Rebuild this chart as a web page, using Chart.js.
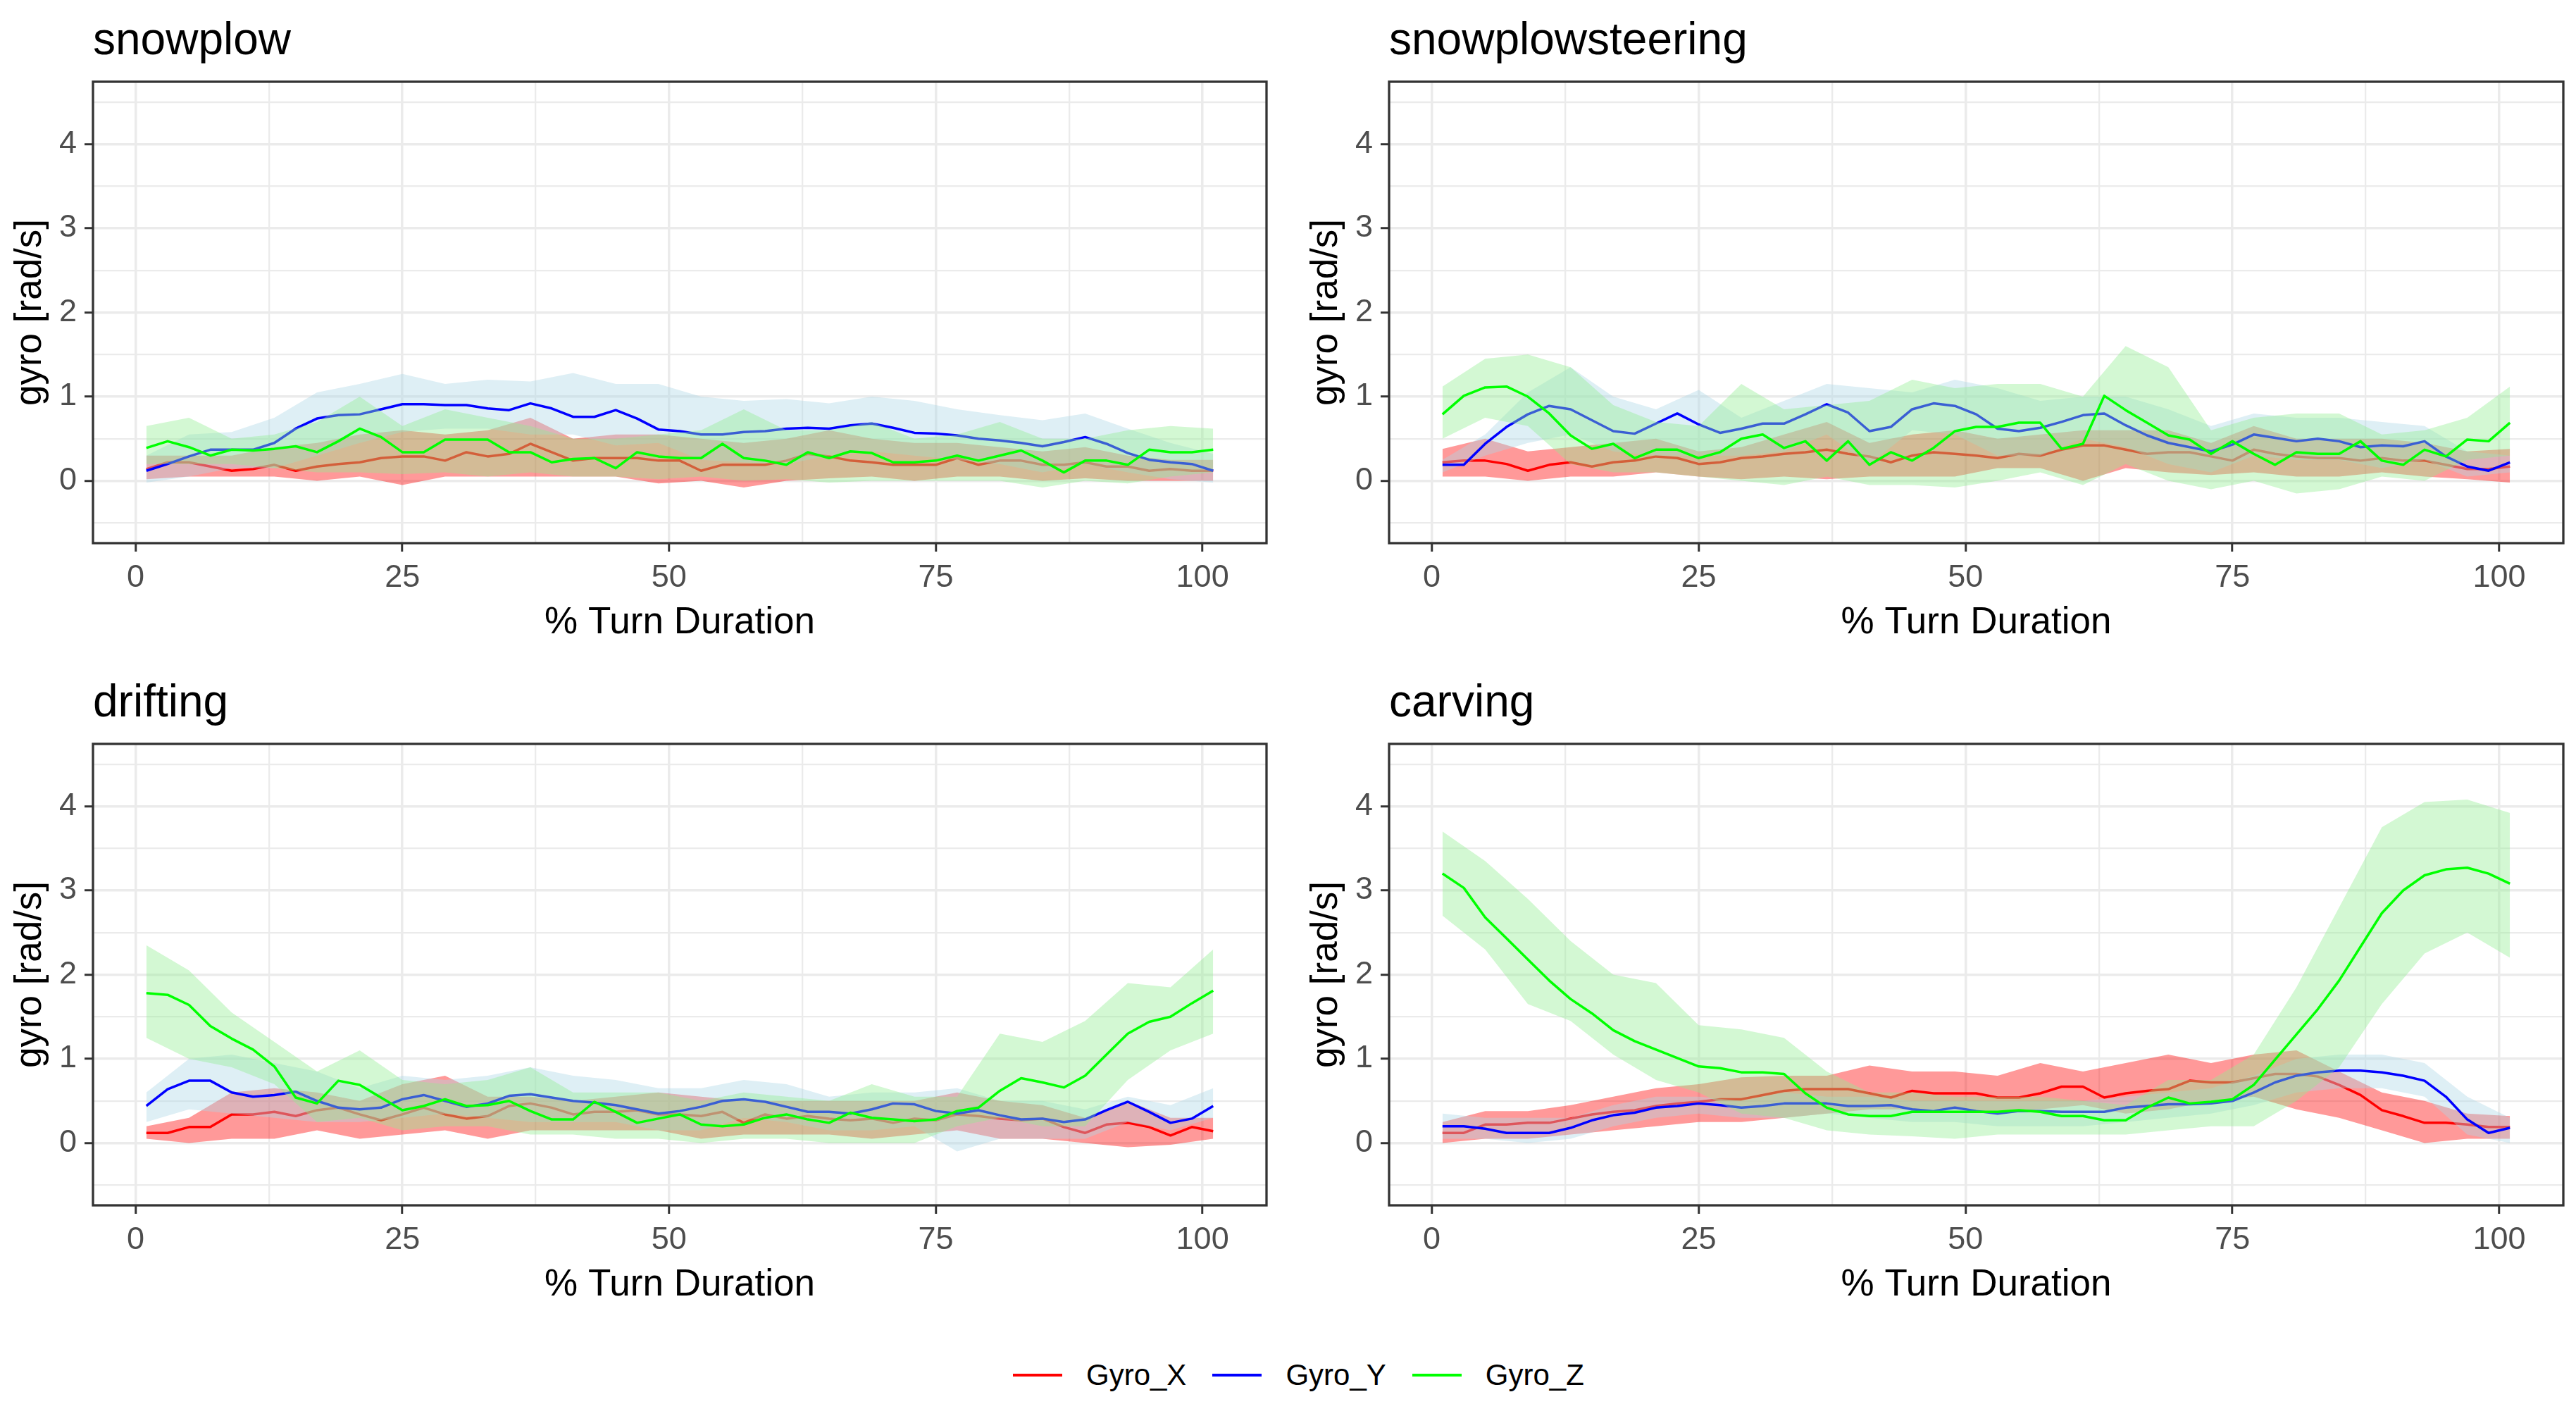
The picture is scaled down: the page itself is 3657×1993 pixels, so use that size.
<!DOCTYPE html>
<html>
<head>
<meta charset="utf-8">
<script src="https://cdn.jsdelivr.net/npm/chart.js@4.4.1/dist/chart.umd.min.js"></script>
<style>
  html, body { margin: 0; padding: 0; background: #fff; }
  #page { position: relative; width: 3657px; height: 1993px; overflow: hidden; background: #fff; }
  canvas { position: absolute; }
  #legend { position: absolute; left: 1438px; top: 1925px; height: 54px; display: flex; align-items: center;
            font-family: "Liberation Sans", Arial, sans-serif; font-size: 42px; color: #000; }
  #legend .sw { width: 70px; height: 4px; margin-right: 34px; }
  #legend .tx { margin-right: 37px; }
</style>
</head>
<body>
<div id="page">
  <canvas id="c0"></canvas>
  <canvas id="c1"></canvas>
  <canvas id="c2"></canvas>
  <canvas id="c3"></canvas>
  <div id="legend"></div>
</div>
<script>
// x positions (% turn duration)
var xMean = [1,3,5,7,9,11,13,15,17,19,21,23,25,27,29,31,33,35,37,39,41,43,45,47,49,51,53,55,57,59,61,63,65,67,69,71,73,75,77,79,81,83,85,87,89,91,93,95,97,99,101];
var xBand = [1,5,9,13,17,21,25,29,33,37,41,45,49,53,57,61,65,69,73,77,81,85,89,93,97,101];

var xTickLabels = [0, 25, 50, 75, 100];
var xGridVals = [0, 12.5, 25, 37.5, 50, 62.5, 75, 87.5, 100];
var yTickLabels = [0, 1, 2, 3, 4];
var yGridVals = [-0.5, 0, 0.5, 1, 1.5, 2, 2.5, 3, 3.5, 4, 4.5];

var seriesNames = ['Gyro_X', 'Gyro_Y', 'Gyro_Z'];
var panelNames = ['snowplow', 'snowplowsteering', 'drifting', 'carving'];

// snowplow
var spX = [0.14,0.22,0.22,0.17,0.12,0.14,0.19,0.12,0.17,0.20,0.22,0.27,0.29,0.29,0.24,0.34,0.29,0.32,0.44,0.34,0.24,0.27,0.27,0.27,0.24,0.24,0.12,0.19,0.19,0.19,0.24,0.32,0.29,0.24,0.22,0.19,0.19,0.19,0.27,0.19,0.24,0.24,0.19,0.19,0.22,0.17,0.17,0.12,0.14,0.12,0.12];
var spY = [0.12,0.20,0.29,0.37,0.37,0.37,0.45,0.62,0.74,0.78,0.79,0.85,0.91,0.91,0.90,0.90,0.86,0.84,0.92,0.86,0.76,0.76,0.84,0.74,0.61,0.59,0.55,0.55,0.58,0.59,0.62,0.63,0.62,0.66,0.68,0.63,0.57,0.56,0.54,0.50,0.48,0.45,0.41,0.46,0.52,0.44,0.33,0.25,0.22,0.20,0.12];
var spZ = [0.39,0.47,0.40,0.30,0.37,0.36,0.38,0.41,0.34,0.47,0.62,0.52,0.34,0.34,0.49,0.49,0.49,0.34,0.34,0.22,0.26,0.27,0.15,0.34,0.29,0.27,0.27,0.44,0.27,0.24,0.19,0.34,0.27,0.35,0.33,0.22,0.22,0.24,0.30,0.24,0.30,0.36,0.24,0.10,0.24,0.24,0.19,0.37,0.34,0.34,0.37];
var spXLo = [0.02,0.05,0.05,0.05,0.00,0.05,-0.05,0.05,0.05,0.05,0.05,0.05,-0.03,0.00,-0.08,0.00,0.03,0.05,0.00,0.05,0.05,0.00,0.03,0.00,0.00,0.00];
var spXHi = [0.30,0.30,0.30,0.40,0.45,0.55,0.60,0.55,0.60,0.75,0.50,0.55,0.55,0.50,0.45,0.50,0.60,0.50,0.45,0.45,0.40,0.35,0.40,0.30,0.25,0.25];
var spYLo = [-0.02,0.05,0.15,0.15,0.30,0.45,0.58,0.62,0.62,0.55,0.55,0.42,0.45,0.25,0.22,0.20,0.30,0.35,0.30,0.25,0.20,0.10,0.20,0.10,0.02,-0.02];
var spYHi = [0.30,0.55,0.58,0.75,1.05,1.15,1.27,1.15,1.20,1.18,1.28,1.15,1.15,1.00,0.95,0.97,0.92,1.00,0.95,0.85,0.78,0.72,0.80,0.62,0.45,0.32];
var spZLo = [0.20,0.20,0.20,0.15,0.10,0.10,0.08,0.10,0.05,0.10,0.05,0.05,0.02,0.05,0.00,0.02,-0.02,0.00,0.00,0.00,0.00,-0.08,0.00,-0.03,0.05,0.10];
var spZHi = [0.65,0.75,0.50,0.55,0.70,1.00,0.65,0.85,0.75,0.65,0.50,0.50,0.55,0.60,0.85,0.60,0.60,0.70,0.50,0.55,0.70,0.50,0.50,0.60,0.65,0.62];

// snowplowsteering
var ssX = [0.22,0.24,0.24,0.20,0.12,0.19,0.22,0.17,0.22,0.24,0.29,0.27,0.20,0.22,0.27,0.29,0.32,0.34,0.37,0.32,0.29,0.22,0.30,0.34,0.32,0.30,0.27,0.32,0.30,0.37,0.42,0.42,0.37,0.32,0.34,0.34,0.29,0.24,0.37,0.32,0.29,0.27,0.27,0.24,0.27,0.24,0.24,0.19,0.14,0.14,0.17];
var ssY = [0.19,0.19,0.44,0.64,0.79,0.89,0.85,0.72,0.59,0.56,0.68,0.80,0.67,0.57,0.62,0.68,0.68,0.79,0.91,0.81,0.59,0.64,0.85,0.92,0.89,0.79,0.62,0.59,0.63,0.70,0.78,0.80,0.66,0.54,0.45,0.40,0.35,0.43,0.55,0.51,0.47,0.50,0.47,0.40,0.42,0.41,0.47,0.29,0.17,0.12,0.22];
var ssZ = [0.79,1.01,1.11,1.12,1.00,0.80,0.54,0.38,0.44,0.27,0.37,0.37,0.27,0.34,0.50,0.55,0.39,0.47,0.24,0.47,0.19,0.34,0.24,0.39,0.59,0.64,0.64,0.69,0.69,0.38,0.44,1.01,0.84,0.69,0.54,0.49,0.32,0.47,0.32,0.19,0.34,0.32,0.32,0.47,0.24,0.19,0.37,0.29,0.49,0.47,0.69];
var ssXLo = [0.05,0.05,0.00,0.05,0.05,0.10,0.05,0.02,0.05,0.02,0.05,0.05,0.05,0.15,0.15,0.00,0.15,0.10,0.07,0.10,0.05,0.05,0.10,0.05,0.02,-0.02];
var ssXHi = [0.38,0.50,0.35,0.40,0.45,0.50,0.35,0.40,0.55,0.70,0.45,0.55,0.60,0.50,0.55,0.60,0.60,0.60,0.45,0.65,0.50,0.50,0.50,0.45,0.35,0.38];
var ssYLo = [0.10,0.30,0.45,0.55,0.35,0.30,0.30,0.30,0.35,0.55,0.20,0.60,0.55,0.30,0.30,0.50,0.40,0.20,0.10,0.30,0.25,0.25,0.15,0.25,0.05,0.10];
var ssYHi = [0.25,0.55,1.05,1.35,1.00,0.85,1.08,0.75,0.95,1.15,1.10,1.05,1.20,1.10,0.95,1.00,1.00,0.85,0.65,0.80,0.75,0.75,0.70,0.65,0.35,0.30];
var ssZLo = [0.50,0.75,0.65,0.20,0.10,0.10,0.05,0.00,-0.05,0.05,-0.05,-0.05,-0.08,0.00,0.10,-0.05,0.20,0.00,-0.10,0.00,-0.15,-0.10,0.05,0.00,0.25,0.30];
var ssZHi = [1.12,1.45,1.50,1.35,0.90,0.70,0.65,1.15,0.85,0.90,0.95,1.20,1.10,1.15,1.15,1.00,1.60,1.35,0.60,0.75,0.80,0.80,0.55,0.60,0.75,1.12];

// drifting
var drX = [0.12,0.12,0.19,0.19,0.34,0.34,0.37,0.32,0.39,0.42,0.34,0.27,0.34,0.42,0.34,0.29,0.32,0.44,0.47,0.42,0.34,0.37,0.37,0.39,0.34,0.34,0.32,0.37,0.24,0.34,0.29,0.32,0.29,0.27,0.29,0.24,0.29,0.27,0.34,0.32,0.29,0.27,0.29,0.19,0.12,0.22,0.24,0.19,0.09,0.19,0.14];
var drY = [0.44,0.64,0.74,0.74,0.60,0.55,0.57,0.61,0.50,0.42,0.40,0.42,0.52,0.57,0.50,0.43,0.47,0.56,0.58,0.54,0.50,0.48,0.45,0.40,0.35,0.38,0.43,0.50,0.52,0.49,0.43,0.37,0.37,0.35,0.40,0.47,0.46,0.38,0.35,0.39,0.33,0.28,0.29,0.25,0.28,0.39,0.49,0.37,0.24,0.29,0.44];
var drZ = [1.78,1.76,1.64,1.39,1.24,1.11,0.91,0.54,0.47,0.74,0.69,0.54,0.39,0.44,0.52,0.44,0.45,0.50,0.38,0.28,0.28,0.49,0.37,0.24,0.29,0.34,0.22,0.20,0.22,0.30,0.34,0.28,0.24,0.36,0.30,0.28,0.26,0.28,0.38,0.42,0.62,0.77,0.72,0.66,0.80,1.05,1.30,1.44,1.50,1.66,1.81];
var drXLo = [0.05,0.00,0.05,0.05,0.15,0.05,0.10,0.15,0.05,0.15,0.15,0.15,0.15,0.05,0.10,0.10,0.10,0.05,0.10,0.15,0.05,0.05,0.00,-0.05,-0.02,0.05];
var drXHi = [0.20,0.30,0.60,0.65,0.60,0.50,0.70,0.80,0.55,0.55,0.50,0.55,0.60,0.55,0.50,0.50,0.50,0.50,0.50,0.60,0.50,0.45,0.30,0.50,0.30,0.30];
var drYLo = [0.25,0.40,0.35,0.30,0.25,0.25,0.30,0.35,0.30,0.25,0.25,0.25,0.15,0.15,0.30,0.25,0.15,0.15,0.20,-0.10,0.05,0.05,0.05,0.25,0.15,0.30];
var drYHi = [0.60,1.00,1.05,0.95,0.85,0.65,0.80,0.75,0.80,0.90,0.80,0.75,0.65,0.65,0.75,0.70,0.55,0.60,0.60,0.65,0.50,0.50,0.40,0.55,0.45,0.65];
var drZLo = [1.25,1.00,0.90,0.70,0.25,0.30,0.15,0.20,0.20,0.10,0.10,0.05,0.05,0.00,0.05,0.05,0.00,0.00,0.00,0.20,0.30,0.20,0.20,0.75,1.10,1.30];
var drZHi = [2.35,2.05,1.55,1.20,0.85,1.10,0.75,0.70,0.75,0.90,0.60,0.60,0.60,0.50,0.60,0.55,0.50,0.70,0.55,0.55,1.30,1.20,1.45,1.90,1.85,2.30];

// carving
var cvX = [0.12,0.12,0.22,0.22,0.24,0.24,0.29,0.34,0.37,0.39,0.44,0.47,0.49,0.52,0.52,0.57,0.62,0.64,0.64,0.64,0.59,0.54,0.62,0.59,0.59,0.59,0.54,0.54,0.59,0.67,0.67,0.54,0.59,0.62,0.64,0.74,0.72,0.72,0.77,0.82,0.82,0.79,0.69,0.57,0.39,0.32,0.24,0.24,0.22,0.19,0.19];
var cvY = [0.20,0.20,0.17,0.12,0.12,0.12,0.18,0.27,0.33,0.36,0.42,0.44,0.47,0.45,0.42,0.44,0.47,0.47,0.47,0.44,0.44,0.45,0.40,0.38,0.42,0.38,0.35,0.38,0.38,0.37,0.37,0.37,0.42,0.44,0.46,0.46,0.47,0.50,0.60,0.72,0.80,0.84,0.86,0.86,0.84,0.80,0.74,0.55,0.28,0.12,0.18];
var cvZ = [3.20,3.03,2.68,2.43,2.18,1.93,1.71,1.54,1.34,1.21,1.11,1.01,0.91,0.89,0.84,0.84,0.82,0.59,0.42,0.34,0.32,0.32,0.37,0.37,0.37,0.37,0.37,0.39,0.37,0.32,0.32,0.27,0.27,0.42,0.54,0.47,0.49,0.52,0.69,0.99,1.29,1.59,1.93,2.33,2.73,3.00,3.18,3.25,3.27,3.20,3.08];
var cvXLo = [0.00,0.05,0.05,0.10,0.15,0.20,0.25,0.25,0.30,0.35,0.40,0.40,0.40,0.35,0.40,0.45,0.35,0.40,0.50,0.55,0.40,0.30,0.15,0.00,0.05,0.05];
var cvXHi = [0.25,0.38,0.38,0.45,0.55,0.65,0.70,0.78,0.80,0.80,0.92,0.85,0.85,0.80,0.95,0.85,0.95,1.05,0.95,1.05,1.10,0.85,0.60,0.50,0.35,0.32];
var cvYLo = [0.05,0.05,0.00,0.05,0.20,0.30,0.35,0.30,0.30,0.35,0.30,0.25,0.25,0.20,0.20,0.20,0.25,0.30,0.35,0.45,0.60,0.65,0.65,0.55,0.10,0.00];
var cvYHi = [0.35,0.30,0.30,0.30,0.45,0.55,0.55,0.50,0.60,0.55,0.55,0.50,0.50,0.50,0.50,0.50,0.55,0.60,0.65,0.80,1.00,1.05,1.05,0.95,0.55,0.30];
var cvZLo = [2.70,2.30,1.65,1.45,1.05,0.75,0.60,0.35,0.30,0.15,0.10,0.08,0.05,0.10,0.10,0.10,0.10,0.15,0.20,0.20,0.50,0.90,1.65,2.25,2.50,2.20];
var cvZHi = [3.70,3.35,2.90,2.40,2.00,1.90,1.40,1.35,1.25,0.85,0.60,0.60,0.55,0.55,0.55,0.50,0.45,0.75,0.75,1.05,1.85,2.80,3.75,4.05,4.08,3.92];

var lineColors = ['#FF0000', '#0000FF', '#00FF00'];
var bandColors = ['rgba(255,0,0,0.4)', 'rgba(173,216,230,0.4)', 'rgba(144,238,144,0.4)'];

var panels = [
  { id: 'c0', name: panelNames[0], mean: [spX, spY, spZ], lo: [spXLo, spYLo, spZLo], hi: [spXHi, spYHi, spZHi], left: 132, width: 1666, top: 0 },
  { id: 'c1', name: panelNames[1], mean: [ssX, ssY, ssZ], lo: [ssXLo, ssYLo, ssZLo], hi: [ssXHi, ssYHi, ssZHi], left: 1972, width: 1667, top: 0 },
  { id: 'c2', name: panelNames[2], mean: [drX, drY, drZ], lo: [drXLo, drYLo, drZLo], hi: [drXHi, drYHi, drZHi], left: 132, width: 1666, top: 940 },
  { id: 'c3', name: panelNames[3], mean: [cvX, cvY, cvZ], lo: [cvXLo, cvYLo, cvZLo], hi: [cvXHi, cvYHi, cvZHi], left: 1972, width: 1667, top: 940 }
];

var FONT = '"Liberation Sans", Arial, sans-serif';
Chart.defaults.font.family = FONT;

var AXIS_W = 132, PAD_TOP = 116, PAD_RIGHT = 15, PLOT_H = 655, CANVAS_H = 941;

function pts(xs, ys) {
  return xs.map(function (x, i) { return { x: x, y: ys[i] }; });
}

function frame(title) {
  return {
    id: 'frame',
    afterDraw: function (chart) {
      var a = chart.chartArea, ctx = chart.ctx;
      ctx.save();
      ctx.strokeStyle = '#333333';
      ctx.lineWidth = 3.3;
      ctx.strokeRect(a.left, a.top, a.right - a.left, a.bottom - a.top);
      ctx.fillStyle = '#000000';
      ctx.font = '64px ' + FONT;
      ctx.textBaseline = 'alphabetic';
      ctx.textAlign = 'left';
      ctx.fillText(title, a.left, a.top - 39);
      ctx.restore();
    }
  };
}

function makeDatasets(p) {
  var ds = [];
  for (var s = 0; s < 3; s++) {
    var ord = 6 - 2 * s;
    ds.push({ label: seriesNames[s] + ' lo', data: pts(xBand, p.lo[s]), borderWidth: 0, pointRadius: 0, fill: false, order: ord });
    ds.push({ label: seriesNames[s] + ' hi', data: pts(xBand, p.hi[s]), borderWidth: 0, pointRadius: 0, fill: '-1', backgroundColor: bandColors[s], order: ord });
    ds.push({ label: seriesNames[s], data: pts(xMean, p.mean[s]), borderColor: lineColors[s], borderWidth: 3.5, pointRadius: 0, fill: false, tension: 0, borderJoinStyle: 'round', order: ord - 1 });
  }
  return ds;
}

function isMajor(v, list) { return list.indexOf(v) !== -1; }

panels.forEach(function (p) {
  var cv = document.getElementById(p.id);
  var w = p.width + AXIS_W + PAD_RIGHT;
  cv.width = w; cv.height = CANVAS_H;
  cv.style.width = w + 'px'; cv.style.height = CANVAS_H + 'px';
  cv.style.left = (p.left - AXIS_W) + 'px';
  cv.style.top = p.top + 'px';

  new Chart(cv, {
    type: 'line',
    data: { datasets: makeDatasets(p) },
    plugins: [frame(p.name)],
    options: {
      responsive: false,
      devicePixelRatio: 1,
      animation: false,
      events: [],
      layout: { padding: { top: PAD_TOP, right: PAD_RIGHT, left: 0, bottom: 0 } },
      plugins: {
        legend: { display: false },
        tooltip: { enabled: false },
        filler: { drawTime: 'beforeDatasetDraw', propagate: false }
      },
      scales: {
        x: {
          type: 'linear',
          min: -4, max: 106,
          afterBuildTicks: function (s) { s.ticks = xGridVals.map(function (v) { return { value: v }; }); },
          afterFit: function (s) { s.height = CANVAS_H - PAD_TOP - PLOT_H; },
          border: { display: false },
          grid: {
            color: '#EBEBEB',
            lineWidth: function (c) { return c.tick && isMajor(c.tick.value, xTickLabels) ? 3.5 : 2.3; },
            tickLength: 12,
            tickWidth: 3,
            tickColor: function (c) { return c.tick && isMajor(c.tick.value, xTickLabels) ? '#333333' : 'rgba(0,0,0,0)'; }
          },
          ticks: {
            autoSkip: false, maxRotation: 0,
            padding: 11,
            color: '#4D4D4D',
            font: { size: 45 },
            callback: function (v) { return isMajor(v, xTickLabels) ? String(v) : ''; }
          },
          title: { display: true, text: '% Turn Duration', color: '#000000', font: { size: 53 }, padding: { top: 0, bottom: 25 } }
        },
        y: {
          type: 'linear',
          min: -0.74, max: 4.74,
          afterBuildTicks: function (s) { s.ticks = yGridVals.map(function (v) { return { value: v }; }); },
          afterFit: function (s) { s.width = AXIS_W; },
          border: { display: false },
          grid: {
            color: '#EBEBEB',
            lineWidth: function (c) { return c.tick && isMajor(c.tick.value, yTickLabels) ? 3.5 : 2.3; },
            tickLength: 12,
            tickWidth: 3,
            tickColor: function (c) { return c.tick && isMajor(c.tick.value, yTickLabels) ? '#333333' : 'rgba(0,0,0,0)'; }
          },
          ticks: {
            autoSkip: false,
            padding: 11,
            color: '#4D4D4D',
            font: { size: 45 },
            callback: function (v) { return isMajor(v, yTickLabels) ? String(v) : ''; }
          },
          title: { display: true, text: 'gyro [rad/s]', color: '#000000', font: { size: 53 }, padding: { top: 12, bottom: 0 } }
        }
      }
    }
  });
});

// shared legend
var lg = document.getElementById('legend');
seriesNames.forEach(function (n, i) {
  var sw = document.createElement('div');
  sw.className = 'sw';
  sw.style.background = lineColors[i];
  var tx = document.createElement('div');
  tx.className = 'tx';
  tx.textContent = n;
  lg.appendChild(sw);
  lg.appendChild(tx);
});
</script>
</body>
</html>
